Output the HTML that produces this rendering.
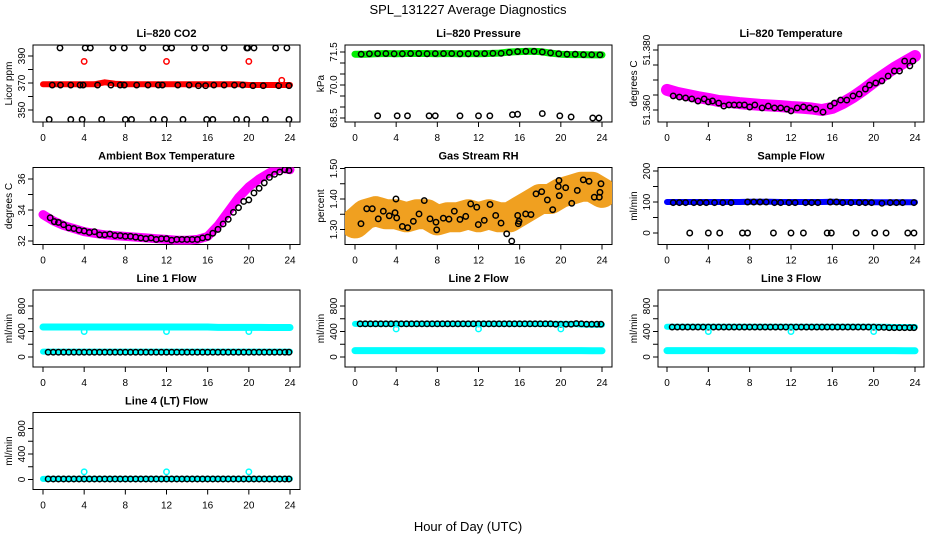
<!DOCTYPE html>
<html><head><meta charset="utf-8"><style>
html,body{margin:0;padding:0;background:#fff}
svg{display:block;font-family:"Liberation Sans",Arial,sans-serif}
</style></head><body>
<svg id="chart" width="936" height="540" viewBox="0 0 936 540" xmlns="http://www.w3.org/2000/svg">
<rect x="0" y="0" width="936" height="540" fill="#fff"/>
<text x="468" y="14" font-size="13" text-anchor="middle">SPL_131227  Average Diagnostics</text>
<text x="468" y="531" font-size="13" text-anchor="middle">Hour of Day (UTC)</text>
</svg>
<script>
// ---------- data ----------
const hourTicks=[0,4,8,12,16,20,24];
const hourly=[0,1,2,3,4,5,6,7,8,9,10,11,12,13,14,15,16,17,18,19,20,21,22,23,24];
const halfHours=[0.5,1,1.5,2,2.5,3,3.5,4,4.5,5,5.5,6,6.5,7,7.5,8,8.5,9,9.5,10,10.5,11,11.5,12,12.5,13,13.5,14,14.5,15,15.5,16,16.5,17,17.5,18,18.5,19,19.5,20,20.5,21,21.5,22,22.5,23,23.5,23.9];

// CO2
const co2Band=[369,369,369,369,369,369,370.5,369.5,369,369,369,369,369,369,369,369,369,369,369,369,368.5,368.5,368.5,368.5,368.5];
const co2MidHours=[0.9,1.7,2.7,3.6,3.9,5.3,6.6,7.5,7.9,9.1,10.2,11.2,11.6,13.1,14.2,15.1,15.8,16.6,17.6,18.6,19.4,20.4,21.4,22.9,23.9];
const co2MidVals=[368.5,368.5,368.5,368.5,368.5,368.5,368.5,368.5,368.5,368.5,368.5,368.5,368.5,368.5,368.5,368,368,368.5,368.5,368.5,368.5,368,368,368,368];
const co2TopHours=[1.65,4.1,4.6,6.8,7.9,9.7,11.95,12.5,14.7,15.8,17.6,19.8,19.9,20.5,22.6,23.7];
const co2TopVals=[396,396,396,396,396,396,396,396,396,396,396,396,396,396,396,396];
const co2BotHours=[0.6,2.7,3.8,5.7,8.0,8.6,10.7,11.8,13.6,15.9,16.5,18.8,19.8,21.6,23.9];
const co2BotVals=[343,343,343,343,343,343,343,343,343,343,343,343,343,343,343];
const co2RedHours=[4,12,20,23.2];
const co2RedVals=[386,386,386,372];

// Pressure
const presBand=[71.4,71.4,71.42,71.43,71.42,71.43,71.43,71.43,71.42,71.43,71.42,71.43,71.42,71.43,71.45,71.5,71.52,71.53,71.52,71.45,71.4,71.38,71.38,71.37,71.37];
const presHours=[0.6,1.4,2.2,3.0,3.8,4.6,5.4,6.2,7.0,7.8,8.6,9.4,10.2,11.0,11.8,12.6,13.4,14.2,15.0,15.8,16.6,17.4,18.2,19.0,19.8,20.6,21.4,22.2,23.0,23.8];
const presVals=[71.4,71.42,71.43,71.43,71.42,71.42,71.43,71.43,71.42,71.43,71.43,71.43,71.42,71.42,71.43,71.43,71.44,71.44,71.48,71.52,71.53,71.53,71.5,71.46,71.42,71.4,71.4,71.38,71.38,71.37];
const presLowHours=[2.2,4.1,5.1,7.2,7.8,10.2,12.0,13.1,15.3,15.8,18.2,19.9,21.0,23.1,23.7];
const presLowVals=[68.6,68.6,68.6,68.6,68.6,68.6,68.6,68.6,68.65,68.67,68.7,68.6,68.55,68.5,68.5];

// Li-820 temperature
const tempBand=[51.3667,51.3657,51.365,51.3643,51.3637,51.363,51.3627,51.3623,51.362,51.3617,51.3615,51.3613,51.361,51.3608,51.3605,51.36,51.3607,51.3623,51.3643,51.3667,51.3693,51.3717,51.374,51.376,51.378];
const tempHours=[0.6,1.2,1.8,2.4,3.0,3.6,4.0,4.4,5.0,5.5,6.0,6.5,7.0,7.5,8.0,8.5,9.2,9.8,10.4,11.0,11.6,12.0,12.6,13.2,13.8,14.4,15.1,15.8,16.2,16.8,17.4,18.0,18.6,19.2,19.6,20.2,20.8,21.4,22.0,22.5,23.0,23.5,23.8];
const tempVals=[51.3647,51.3643,51.364,51.3637,51.363,51.3637,51.3627,51.363,51.3623,51.3613,51.3617,51.3617,51.3617,51.3617,51.361,51.3617,51.3607,51.3613,51.3607,51.3607,51.3603,51.3597,51.3607,51.361,51.3607,51.3603,51.3593,51.3613,51.3623,51.3633,51.3633,51.3647,51.3653,51.367,51.3683,51.369,51.3697,51.3713,51.373,51.373,51.3763,51.3747,51.3763];

// Ambient box temperature
const ambBand=[33.7,33.3,33.0,32.8,32.6,32.5,32.4,32.35,32.3,32.25,32.2,32.15,32.1,32.05,32.05,32.1,32.3,33.0,33.9,34.8,35.5,36.0,36.4,36.7,36.6];
const ambHours=[0.7,1.1,1.5,2.0,2.5,3.0,3.5,4.0,4.5,5.0,5.5,6.0,6.5,7.0,7.5,8.0,8.5,9.0,9.5,10.0,10.5,11.0,11.5,12.0,12.5,13.0,13.5,14.0,14.5,15.0,15.5,16.0,16.5,17.0,17.5,18.0,18.5,19.0,19.5,20.0,20.5,21.0,21.5,22.0,22.5,23.0,23.5,23.9];
const ambVals=[33.5,33.25,33.2,33.05,32.85,32.8,32.7,32.65,32.55,32.6,32.4,32.4,32.45,32.35,32.35,32.3,32.3,32.25,32.2,32.15,32.2,32.1,32.15,32.15,32.05,32.1,32.1,32.1,32.1,32.1,32.2,32.25,32.5,32.75,33.1,33.4,33.85,34.15,34.55,34.65,35.1,35.4,35.75,36.1,36.3,36.45,36.6,36.55];

// Gas stream RH
const rhBand=[1.32,1.35,1.36,1.35,1.35,1.34,1.35,1.35,1.33,1.34,1.34,1.35,1.34,1.35,1.34,1.34,1.36,1.38,1.40,1.40,1.42,1.43,1.44,1.44,1.42];
const rhHours=[0.58,1.14,1.68,2.26,2.75,3.33,3.89,3.98,4.05,4.6,5.12,5.67,6.22,6.73,7.29,7.87,7.94,8.58,9.13,9.65,10.2,10.76,11.24,11.83,11.98,12.56,13.12,13.67,14.19,14.74,15.23,15.81,15.87,15.94,16.58,17.1,17.59,18.14,18.69,19.21,19.75,19.82,19.85,20.47,21.06,21.6,22.18,22.74,23.25,23.74,23.8,23.9];
const rhVals=[1.319,1.368,1.368,1.335,1.36,1.345,1.355,1.40,1.338,1.31,1.306,1.327,1.351,1.395,1.335,1.324,1.299,1.337,1.334,1.36,1.333,1.343,1.384,1.373,1.316,1.33,1.382,1.346,1.321,1.286,1.262,1.346,1.319,1.327,1.351,1.349,1.417,1.424,1.397,1.365,1.441,1.461,1.411,1.437,1.386,1.428,1.463,1.458,1.406,1.406,1.422,1.45];

// Sample flow
const sfBand=[100,100,100,100,100,100,100,100,101,101,101,100,100,100,100,100,101,100,100,100,99,99,99,99,99];
const sfHours=[0.6,1.2,1.8,2.6,3.2,3.8,4.6,5.4,6.2,7.8,8.4,9.0,9.6,10.4,11.0,11.8,12.4,13.4,14.0,14.6,15.8,16.4,17.0,17.8,18.6,19.2,19.8,20.8,21.6,22.2,22.8,23.9];
const sfVals=[98,98,98,98,98,98,98,98,98,100,100,100,100,98,98,98,98,98,98,98,100,100,98,98,98,98,98,96,98,98,98,98];
const sfLowHours=[2.2,4.0,5.1,7.3,7.8,10.3,12.0,13.2,15.5,15.9,18.3,20.1,21.2,23.3,23.9];
const sfLowVals=[0,0,0,0,0,0,0,0,0,0,0,0,0,0,0];

// Line flows
const l1HighBand=[470,470,470,470,470,470,470,470,470,470,470,470,470,470,470,470,470,465,465,465,465,465,462,462,462];
const l1LowBand=[85,85,85,85,85,85,85,85,85,85,85,85,85,85,85,85,85,85,85,85,85,85,85,85,85];
const l1BlackVals=[75,75,75,75,75,75,75,75,75,75,75,75,75,75,75,75,75,75,75,75,75,75,75,75,75,75,75,75,75,75,75,75,75,75,75,75,75,75,75,75,75,75,75,75,75,75,75,75];
const l1OutHours=[4,12,20];
const l1OutVals=[400,400,400];

const l2HighBand=[520,520,520,520,520,520,520,520,520,520,520,520,520,520,520,520,520,520,520,520,520,520,510,505,505];
const l2LowBand=[100,100,100,100,100,100,100,100,100,100,100,100,100,100,100,100,100,100,100,100,100,100,100,98,98];
const l2BlackVals=[520,520,520,520,520,520,520,520,520,520,520,520,520,520,520,520,520,520,520,520,520,520,520,520,520,520,520,520,520,520,520,520,520,520,520,520,520,520,515,515,515,515,525,520,515,515,515,515];
const l2OutHours=[4,12,20];
const l2OutVals=[440,440,440];

const l3HighBand=[475,475,475,475,475,475,475,475,475,475,475,475,475,475,475,475,475,475,475,475,475,475,470,470,470];
const l3LowBand=[100,100,100,100,100,100,100,100,100,100,100,100,100,100,100,100,100,100,100,100,100,100,100,98,98];
const l3BlackVals=[470,470,470,470,470,470,470,470,470,470,470,470,470,470,470,470,470,470,470,470,470,470,470,470,470,470,470,470,470,470,470,470,470,470,470,470,470,470,470,470,465,465,460,460,460,460,460,460];
const l3OutHours=[4,12,20];
const l3OutVals=[400,400,400];

const l4Band=[10,10,10,10,10,10,10,10,10,10,10,10,10,10,10,10,10,10,10,10,10,10,10,10,10];
const l4BlackVals=[8,8,8,8,8,8,8,8,8,8,8,8,8,8,8,8,8,8,8,8,8,8,8,8,8,8,8,8,8,8,8,8,8,8,8,8,8,8,8,8,8,8,8,8,8,8,8,8];
const l4OutHours=[4,12,20];
const l4OutVals=[120,120,120];

// ---------- drawing ----------
const NS="http://www.w3.org/2000/svg";
const svg=document.getElementById('chart');
function el(tag,parent){const e=document.createElementNS(NS,tag);parent.appendChild(e);return e;}

function panel(col,row,name,title,ylab,vA,pA,vB,pB,ticks,labels){
  const L=[33,345,658][col], R=[300,612,924][col];
  const X0=[43,355,667][col], X24=[290,602,915][col];
  const T=45+122.5*row, B=122+122.5*row;
  const g=el('g',svg);
  
  
  const x=h=>X0+(X24-X0)*h/24;
  const y=v=>T+pA+(v-vA)*(pB-pA)/(vB-vA);
  const t=el('text',g);
  
  
  t.setAttribute('x',(L+R)/2);t.setAttribute('y',T-8);t.setAttribute('font-size','11');t.setAttribute('font-weight','bold');t.setAttribute('text-anchor','middle');
  t.textContent=title;
  const box=el('rect',g);
  
  
  box.setAttribute('x',L);box.setAttribute('y',T);box.setAttribute('width',R-L);box.setAttribute('height',B-T);box.setAttribute('fill','none');box.setAttribute('stroke','#000');box.setAttribute('stroke-width','1');
  hourTicks.forEach(h=>{
    const tk=el('line',g);
    
    
    tk.setAttribute('x1',x(h));tk.setAttribute('x2',x(h));tk.setAttribute('y1',B);tk.setAttribute('y2',B+5);tk.setAttribute('stroke','#000');
    const tl=el('text',g);
    
    
    tl.setAttribute('x',x(h));tl.setAttribute('y',B+19);tl.setAttribute('font-size','10');tl.setAttribute('text-anchor','middle');
    tl.textContent=h;
  });
  ticks.forEach(v=>{
    const py=y(v); if(py<T-1||py>B+1) return;
    const tk=el('line',g);
    
    
    tk.setAttribute('x1',L-5);tk.setAttribute('x2',L);tk.setAttribute('y1',py);tk.setAttribute('y2',py);tk.setAttribute('stroke','#000');
  });
  labels.forEach(s=>{
    const py=y(parseFloat(s));
    const tl=el('text',g);
    
    
    tl.setAttribute('transform','translate('+(L-8)+','+py+') rotate(-90)');tl.setAttribute('font-size','10');tl.setAttribute('text-anchor','middle');
    tl.textContent=s;
  });
  const yl=el('text',g);
  
  
  yl.setAttribute('transform','translate('+(L-21)+','+((T+B)/2)+') rotate(-90)');yl.setAttribute('font-size','10');yl.setAttribute('text-anchor','middle');
  yl.textContent=ylab;
  const cp=el('clipPath',g);cp.setAttribute('id','clip-'+name);
  const cr=el('rect',cp);cr.setAttribute('x',L);cr.setAttribute('y',T);cr.setAttribute('width',R-L);cr.setAttribute('height',B-T);
  const data=el('g',g);
  
  
  data.setAttribute('clip-path','url(#clip-'+name+')');
  return {x,y,g:data};
}
function band(p,hours,vals,color,w,nm){
  const pl=el('polyline',p.g);
  
  
  pl.setAttribute('points',hours.map((h,i)=>p.x(h).toFixed(1)+','+p.y(vals[i]).toFixed(1)).join(' '));
  pl.setAttribute('fill','none');pl.setAttribute('stroke',color);pl.setAttribute('stroke-width',w);pl.setAttribute('stroke-linecap','round');pl.setAttribute('stroke-linejoin','round');
}
function pts(p,hours,vals,color,nm){
  hours.forEach((h,i)=>{
    const c=el('circle',p.g);
    
    
    c.setAttribute('cx',p.x(h));c.setAttribute('cy',p.y(vals[i]));c.setAttribute('r','2.7');c.setAttribute('fill','none');c.setAttribute('stroke',color);c.setAttribute('stroke-width','1.5');
  });
}

// CO2
let p=panel(0,0,'co2','Li\u2013820 CO2','Licor ppm',390,11,350,65,[350,360,370,380,390],['350','370','390']);
band(p,hourly,co2Band,'#ff0000',6,'co2-band');
pts(p,co2MidHours,co2MidVals,'#000','co2-point');
pts(p,co2TopHours,co2TopVals,'#000','co2-point');
pts(p,co2BotHours,co2BotVals,'#000','co2-point');
pts(p,co2RedHours,co2RedVals,'#ff0000','co2-outlier');

// Pressure
p=panel(1,0,'pressure','Li\u2013820 Pressure','kPa',71.5,7,68.5,73,[68.5,69,69.5,70,70.5,71,71.5],['68.5','70.0','71.5']);
band(p,hourly,presBand,'#00ee00',7,'pressure-band');
pts(p,presHours,presVals,'#000','pressure-point');
pts(p,presLowHours,presLowVals,'#000','pressure-point');

// Temperature
p=panel(2,0,'li820-temp','Li\u2013820 Temperature','degrees C',51.38,5,51.36,65,[51.36,51.365,51.37,51.375,51.38],['51.360','51.380']);
band(p,hourly,tempBand,'#ff00ff',12,'temp-band');
pts(p,tempHours,tempVals,'#000','temp-point');

// Ambient
p=panel(0,1,'ambient','Ambient Box Temperature','degrees C',36,11.5,32,73.5,[32,33,34,35,36],['32','34','36']);
band(p,hourly,ambBand,'#ff00ff',9,'ambient-band');
pts(p,ambHours,ambVals,'#000','ambient-point');

// RH
p=panel(1,1,'rh','Gas Stream RH','percent',1.5,1,1.3,62,[1.3,1.35,1.4,1.45,1.5],['1.30','1.40','1.50']);
band(p,hourly,rhBand,'#f0a020',30,'rh-band');
pts(p,rhHours,rhVals,'#000','rh-point');

// Sample flow
p=panel(2,1,'sample-flow','Sample Flow','ml/min',200,3.5,0,65.5,[0,50,100,150,200],['0','100','200']);
band(p,hourly,sfBand,'#0000ff',6,'sample-flow-band');
pts(p,sfHours,sfVals,'#000','sample-flow-point');
pts(p,sfLowHours,sfLowVals,'#000','sample-flow-point');

// Line 1
p=panel(0,2,'line1','Line 1 Flow','ml/min',800,16,0,67,[0,200,400,600,800],['0','400','800']);
band(p,hourly,l1HighBand,'#00ffff',7,'line1-high-band');
band(p,hourly,l1LowBand,'#00ffff',6,'line1-low-band');
pts(p,halfHours,l1BlackVals,'#000','line1-point');
pts(p,l1OutHours,l1OutVals,'#00ffff','line1-outlier');

// Line 2
p=panel(1,2,'line2','Line 2 Flow','ml/min',800,16,0,67,[0,200,400,600,800],['0','400','800']);
band(p,hourly,l2HighBand,'#00ffff',6,'line2-high-band');
band(p,hourly,l2LowBand,'#00ffff',7,'line2-low-band');
pts(p,halfHours,l2BlackVals,'#000','line2-point');
pts(p,l2OutHours,l2OutVals,'#00ffff','line2-outlier');

// Line 3
p=panel(2,2,'line3','Line 3 Flow','ml/min',800,16,0,67,[0,200,400,600,800],['0','400','800']);
band(p,hourly,l3HighBand,'#00ffff',6,'line3-high-band');
band(p,hourly,l3LowBand,'#00ffff',7,'line3-low-band');
pts(p,halfHours,l3BlackVals,'#000','line3-point');
pts(p,l3OutHours,l3OutVals,'#00ffff','line3-outlier');

// Line 4
p=panel(0,3,'line4','Line 4 (LT) Flow','ml/min',800,16,0,67,[0,200,400,600,800],['0','400','800']);
band(p,hourly,l4Band,'#00ffff',6,'line4-band');
pts(p,halfHours,l4BlackVals,'#000','line4-point');
pts(p,l4OutHours,l4OutVals,'#00ffff','line4-outlier');
</script>
</body></html>
